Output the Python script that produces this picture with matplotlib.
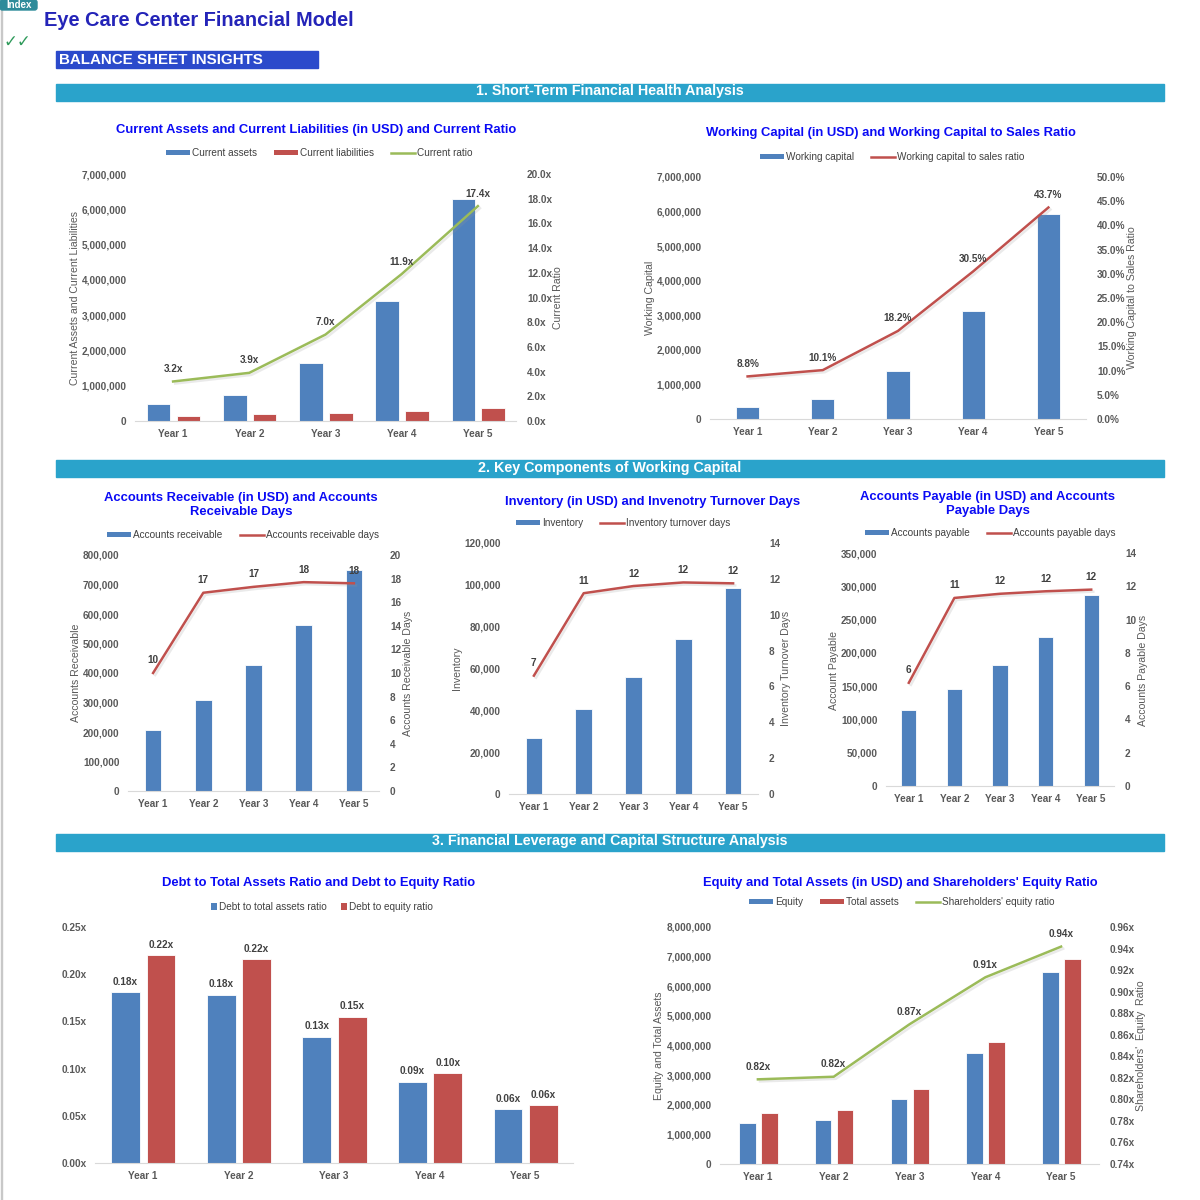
import numpy as np
import matplotlib
matplotlib.use("Agg")
import matplotlib.pyplot as plt
import matplotlib.patheffects as pe
from matplotlib.patches import Patch, Rectangle, FancyBboxPatch
from matplotlib.lines import Line2D
from matplotlib.ticker import FuncFormatter, MultipleLocator

plt.rcParams['font.family'] = ['Liberation Sans', 'DejaVu Sans']

# ---- data ----
years = ['Year 1', 'Year 2', 'Year 3', 'Year 4', 'Year 5']

current_assets = [490000, 750000, 1650000, 3410000, 6300000]
current_liabilities = [150000, 190000, 235000, 287000, 362000]
current_ratio = [3.2, 3.9, 7.0, 11.9, 17.4]

working_capital = [340000, 580000, 1400000, 3110000, 5930000]
wc_to_sales = [8.8, 10.1, 18.2, 30.5, 43.7]

accounts_receivable = [207000, 307000, 426000, 562000, 748000]
ar_days = [10.0, 16.8, 17.3, 17.7, 17.6]

inventory = [27000, 40400, 55800, 74100, 98400]
inv_days = [6.6, 11.2, 11.6, 11.8, 11.75]

accounts_payable = [114000, 145000, 181500, 224000, 287500]
ap_days = [6.2, 11.3, 11.55, 11.7, 11.8]

debt_to_assets = [0.181, 0.178, 0.134, 0.086, 0.057]
debt_to_equity = [0.220, 0.216, 0.155, 0.095, 0.061]

equity = [1395000, 1485000, 2180000, 3760000, 6490000]
total_assets = [1710000, 1820000, 2520000, 4110000, 6910000]
equity_ratio = [0.8186, 0.821, 0.8697, 0.9133, 0.9418]

BLUE = '#4f81bd'
RED = '#c0504d'
GREEN = '#9bbb59'
TXT = '#404040'
TICK = '#595959'
TITLE = '#0a0af5'

W = H = 1200
fig = plt.figure(figsize=(12, 12), dpi=100)
fig.patch.set_facecolor('white')


def fx(x):
    return x / W


def fy(y):
    return 1 - y / H


def axes_px(x0, y0, x1, y1):
    return fig.add_axes([fx(x0), fy(y1), (x1 - x0) / W, (y1 - y0) / H])


shadow = [pe.SimpleLineShadow(offset=(1.5, -1.5), shadow_color='#999999', alpha=0.2),
          pe.Normal()]


def style_axis(ax, ylim, step, fmt):
    ax.set_xlim(-0.5, 4.5)
    ax.set_ylim(*ylim)
    ax.yaxis.set_major_locator(MultipleLocator(step))
    ax.yaxis.set_major_formatter(FuncFormatter(fmt))
    for s in ['top', 'right', 'left']:
        ax.spines[s].set_visible(False)
    ax.spines['bottom'].set_color('#d9d9d9')
    ax.tick_params(length=0, labelsize=7.2, labelcolor=TICK, pad=6)
    ax.set_xticks(range(5))
    ax.set_xticklabels(years, fontweight='bold')
    for t in ax.get_yticklabels():
        t.set_fontweight('bold')
    ax.set_facecolor('none')


def style_right(ax, ylim, step, fmt):
    ax.set_ylim(*ylim)
    ax.yaxis.set_major_locator(MultipleLocator(step))
    ax.yaxis.set_major_formatter(FuncFormatter(fmt))
    for s in ax.spines.values():
        s.set_visible(False)
    ax.tick_params(length=0, labelsize=7.2, labelcolor=TICK, pad=8)
    for t in ax.get_yticklabels():
        t.set_fontweight('bold')


def comma(v, p):
    return '{:,.0f}'.format(v)


def title(x, y, s):
    fig.text(fx(x), fy(y), s, ha='center', va='center', color=TITLE,
             fontsize=9.4, fontweight='bold', linespacing=1.3)


def ylabel(x, y, s):
    fig.text(fx(x), fy(y), s, ha='center', va='center', rotation=90,
             color=TICK, fontsize=7.6)


def legend(ax, handles, labels, x, y, **kw):
    ax.legend(handles, labels, loc='center', bbox_to_anchor=(fx(x), fy(y)),
              bbox_transform=fig.transFigure, ncol=len(labels), frameon=False,
              fontsize=7.2, labelcolor=TXT, handlelength=2.4, handleheight=0.5,
              handletextpad=0.2, columnspacing=1.7, **kw)


def line_labels(ax, vals, fmt, dy=9):
    for i, v in enumerate(vals):
        ax.annotate(fmt(v), (i, v), xytext=(0, dy), textcoords='offset points',
                    ha='center', va='center', fontsize=7.2, fontweight='bold', color=TXT)


def bar_patch(c):
    return Patch(facecolor=c, edgecolor='none')


def line_handle(c):
    return Line2D([], [], color=c, lw=1.8)


x = np.arange(5)

# ---- header ----
fig.add_artist(Rectangle((fx(1), 0), fx(1), 1, color='#c8c8c8', transform=fig.transFigure))
fig.add_artist(FancyBboxPatch((fx(0), fy(10)), fx(37), 10 / H,
                              boxstyle='round,pad=0,rounding_size=0.002',
                              color='#2e8b9a', transform=fig.transFigure))
fig.text(fx(19), fy(4.5), 'Index', ha='center', va='center', color='white',
         fontsize=7, fontweight='bold')
fig.text(fx(44), fy(20), 'Eye Care Center Financial Model', ha='left', va='center',
         color='#2424b8', fontsize=14.4, fontweight='bold')
fig.text(fx(4), fy(42), '\u2713\u2713', ha='left', va='center', color='#2e9a5a',
         fontsize=12, family=['DejaVu Sans'])
fig.add_artist(Rectangle((fx(56), fy(68)), fx(262), 17 / H, color='#2b4acb',
                         transform=fig.transFigure))
fig.text(fx(59), fy(60), 'BALANCE SHEET INSIGHTS', ha='left', va='center',
         color='white', fontsize=10.9, fontweight='bold')

sections = [(84, '1. Short-Term Financial Health Analysis'),
            (460, '2. Key Components of Working Capital'),
            (834, '3. Financial Leverage and Capital Structure Analysis')]
for y0, s in sections:
    fig.add_artist(Rectangle((fx(56), fy(y0 + 17)), fx(1108), 17 / H, color='#2aa3cb',
                             transform=fig.transFigure))
    fig.text(fx(610), fy(y0 + 7.5), s, ha='center', va='center', color='white',
             fontsize=10.3, fontweight='bold')

# ---- chart 1: current assets / liabilities ----
ax = axes_px(135, 174, 516, 421)
ax.bar(x - 0.19, current_assets, 0.31, color=BLUE, edgecolor='white', lw=0.6)
ax.bar(x + 0.2, current_liabilities, 0.31, color=RED, edgecolor='white', lw=0.6)
style_axis(ax, (0, 7000000), 1000000, comma)
ax2 = ax.twinx()
ax2.plot(x, current_ratio, color=GREEN, lw=1.8, path_effects=shadow)
style_right(ax2, (0, 20), 2, lambda v, p: '{:.1f}x'.format(v))
line_labels(ax2, current_ratio, lambda v: '{:.1f}x'.format(v))
title(316, 130, 'Current Assets and Current Liabilities (in USD) and Current Ratio')
legend(ax2, [bar_patch(BLUE), bar_patch(RED), line_handle(GREEN)],
       ['Current assets', 'Current liabilities', 'Current ratio'], 319, 153)
ylabel(75, 298, 'Current Assets and Current Liabilities')
ylabel(558, 298, 'Current Ratio')

# ---- chart 2: working capital ----
ax = axes_px(710, 177, 1086, 419)
ax.bar(x, working_capital, 0.31, color=BLUE, edgecolor='white', lw=0.6)
style_axis(ax, (0, 7000000), 1000000, comma)
ax2 = ax.twinx()
ax2.plot(x, wc_to_sales, color=RED, lw=1.8, path_effects=shadow)
style_right(ax2, (0, 50), 5, lambda v, p: '{:.1f}%'.format(v))
line_labels(ax2, wc_to_sales, lambda v: '{:.1f}%'.format(v))
title(891, 133, 'Working Capital (in USD) and Working Capital to Sales Ratio')
legend(ax2, [bar_patch(BLUE), line_handle(RED)],
       ['Working capital', 'Working capital to sales ratio'], 892, 157)
ylabel(650, 298, 'Working Capital')
ylabel(1132, 298, 'Working Capital to Sales Ratio')

# ---- chart 3: accounts receivable ----
ax = axes_px(128, 555, 379, 791)
ax.bar(x, accounts_receivable, 0.33, color=BLUE, edgecolor='white', lw=0.6)
style_axis(ax, (0, 800000), 100000, comma)
ax2 = ax.twinx()
ax2.plot(x, ar_days, color=RED, lw=1.8, path_effects=shadow)
style_right(ax2, (0, 20), 2, lambda v, p: '{:.0f}'.format(v))
line_labels(ax2, ar_days, lambda v: '{:.0f}'.format(v))
title(241, 505, 'Accounts Receivable (in USD) and Accounts\nReceivable Days')
legend(ax2, [bar_patch(BLUE), line_handle(RED)],
       ['Accounts receivable', 'Accounts receivable days'], 243, 535)
ylabel(76, 673, 'Accounts Receivable')
ylabel(408, 673, 'Accounts Receivable Days')

# ---- chart 4: inventory ----
ax = axes_px(509, 543, 758, 794)
ax.bar(x, inventory, 0.33, color=BLUE, edgecolor='white', lw=0.6)
style_axis(ax, (0, 120000), 20000, comma)
ax2 = ax.twinx()
ax2.plot(x, inv_days, color=RED, lw=1.8, path_effects=shadow)
style_right(ax2, (0, 14), 2, lambda v, p: '{:.0f}'.format(v))
line_labels(ax2, inv_days, lambda v: '{:.0f}'.format(v))
title(653, 502, 'Inventory (in USD) and Invenotry Turnover Days')
legend(ax2, [bar_patch(BLUE), line_handle(RED)],
       ['Inventory', 'Inventory turnover days'], 623, 523)
ylabel(457, 668, 'Inventory')
ylabel(786, 668, 'Inventory Turnover Days')

# ---- chart 5: accounts payable ----
ax = axes_px(886, 553, 1114, 786)
ax.bar(x, accounts_payable, 0.33, color=BLUE, edgecolor='white', lw=0.6)
style_axis(ax, (0, 350000), 50000, comma)
ax2 = ax.twinx()
ax2.plot(x, ap_days, color=RED, lw=1.8, path_effects=shadow)
style_right(ax2, (0, 14), 2, lambda v, p: '{:.0f}'.format(v))
line_labels(ax2, ap_days, lambda v: '{:.0f}'.format(v))
title(988, 504, 'Accounts Payable (in USD) and Accounts\nPayable Days')
legend(ax2, [bar_patch(BLUE), line_handle(RED)],
       ['Accounts payable', 'Accounts payable days'], 990, 533)
ylabel(834, 670, 'Account Payable')
ylabel(1143, 670, 'Accounts Payable Days')

# ---- chart 6: debt ratios ----
ax = axes_px(95, 927, 573, 1163)
b1 = ax.bar(x - 0.18, debt_to_assets, 0.30, color=BLUE, edgecolor='white', lw=0.6)
b2 = ax.bar(x + 0.19, debt_to_equity, 0.30, color=RED, edgecolor='white', lw=0.6)
style_axis(ax, (0, 0.25), 0.05, lambda v, p: '{:.2f}x'.format(v))
for bars in (b1, b2):
    ax.bar_label(bars, labels=['{:.2f}x'.format(v) for v in bars.datavalues],
                 padding=4, fontsize=7.2, fontweight='bold', color=TXT)
title(319, 883, 'Debt to Total Assets Ratio and Debt to Equity Ratio')
ax.legend([bar_patch(BLUE), bar_patch(RED)],
          ['Debt to total assets ratio', 'Debt to equity ratio'], loc='center',
          bbox_to_anchor=(fx(322), fy(907)), bbox_transform=fig.transFigure,
          ncol=2, frameon=False, fontsize=7.2, labelcolor=TXT, handlelength=0.6,
          handleheight=0.6, handletextpad=0.2, columnspacing=1.4)

# ---- chart 7: equity and total assets ----
ax = axes_px(720, 927, 1099, 1164)
ax.bar(x - 0.14, equity, 0.22, color=BLUE, edgecolor='white', lw=0.6)
ax.bar(x + 0.15, total_assets, 0.22, color=RED, edgecolor='white', lw=0.6)
style_axis(ax, (0, 8000000), 1000000, comma)
ax2 = ax.twinx()
ax2.plot(x, equity_ratio, color=GREEN, lw=1.8, path_effects=shadow)
style_right(ax2, (0.74, 0.96), 0.02, lambda v, p: '{:.2f}x'.format(v))
line_labels(ax2, equity_ratio, lambda v: '{:.2f}x'.format(v))
title(900, 883, "Equity and Total Assets (in USD) and Shareholders' Equity Ratio")
legend(ax2, [bar_patch(BLUE), bar_patch(RED), line_handle(GREEN)],
       ['Equity', 'Total assets', "Shareholders' equity ratio"], 902, 902)
ylabel(659, 1046, 'Equity and Total Assets')
ylabel(1141, 1046, "Shareholders'  Equity  Ratio")

fig.savefig('out.png', dpi=100)
